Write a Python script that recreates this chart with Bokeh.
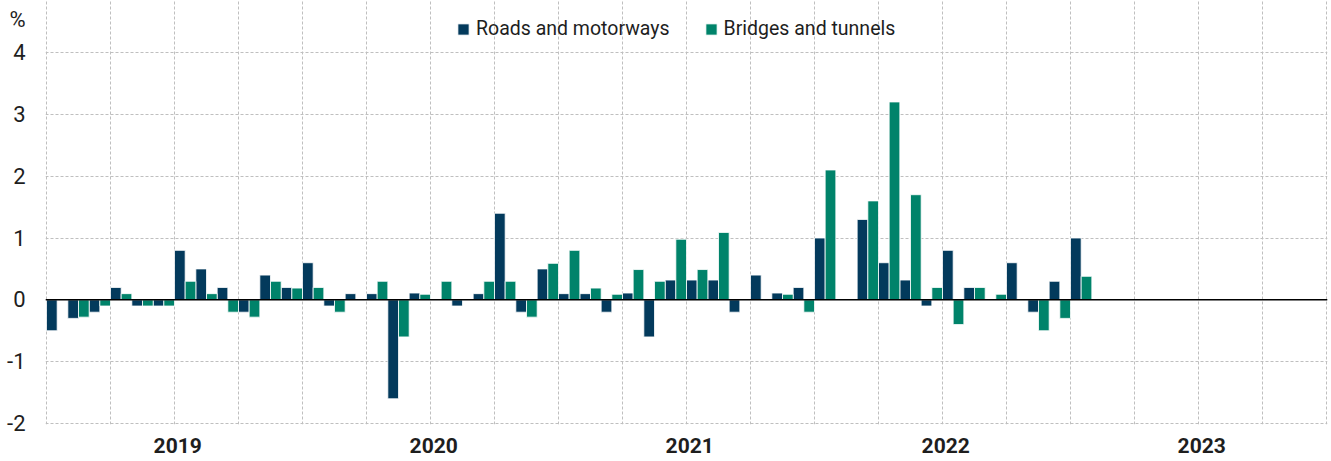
import numpy as np
from bokeh.plotting import figure
from bokeh.models import (ColumnDataSource, Range1d, FixedTicker, Span,
                          Legend, LegendItem)
from bokeh.transform import dodge
from bokeh.embed import file_html
from bokeh.resources import INLINE

# ---- data (monthly % change, Jan 2019 .. Jan 2023) ----
years = [2019, 2020, 2021, 2022, 2023]
year_labels = ["2019", "2020", "2021", "2022", "2023"]
series_names = ["Roads and motorways", "Bridges and tunnels"]
y_ticks = [-2, -1, 0, 1, 2, 3, 4]
y_tick_labels = ["-2", "-1", "0", "1", "2", "3", "4"]
unit_label = "%"

roads = [-0.5, -0.3, -0.2, 0.2, -0.1, -0.1, 0.8, 0.5, 0.2, -0.2, 0.4, 0.2,
         0.6, -0.1, 0.1, 0.1, -1.6, 0.11, 0.0, -0.1, 0.1, 1.4, -0.2, 0.5,
         0.1, 0.1, -0.2, 0.11, -0.6, 0.32, 0.32, 0.32, -0.2, 0.4, 0.11, 0.2,
         1.0, 0.0, 1.3, 0.6, 0.32, -0.1, 0.8, 0.2, 0.0, 0.6, -0.2, 0.3,
         1.0]
bridges = [0.0, -0.28, -0.1, 0.1, -0.1, -0.1, 0.3, 0.1, -0.2, -0.28, 0.3, 0.19,
           0.2, -0.2, 0.0, 0.3, -0.6, 0.09, 0.3, 0.0, 0.3, 0.3, -0.28, 0.59,
           0.8, 0.19, 0.09, 0.49, 0.3, 0.98, 0.49, 1.09, 0.0, 0.0, 0.09, -0.2,
           2.1, 0.0, 1.6, 3.2, 1.7, 0.2, -0.4, 0.2, 0.09, 0.0, -0.5, -0.3,
           0.38]

DARK = "#033a5c"
GREEN = "#00836a"
FONT = "Roboto"
TXT = "#1e1e1e"
GRID = "#bfbfbf"

n_months_total = 12 * len(years)

# layout in pixels: grid box 1280 x 371 px, starting 52 px below the top
PX_X = 1280 / n_months_total
PX_Y = 371 / (y_ticks[-1] - y_ticks[0])
TOP_PAD = 52
x_lo = -1 / PX_X
x_hi = n_months_total + 1 / PX_X
y_lo = y_ticks[0] - 1 / PX_Y
y_hi = y_ticks[-1] + TOP_PAD / PX_Y
unit_pos = y_ticks[-1] + (TOP_PAD - 18.5) / PX_Y

x_center = [i + 0.5 for i in range(len(roads))]
src = ColumnDataSource(dict(x=x_center, roads=roads, bridges=bridges))

p = figure(width=1328, height=459, output_backend="svg", toolbar_location=None,
           x_range=Range1d(x_lo, x_hi), y_range=Range1d(y_lo, y_hi),
           min_border_left=45, min_border_right=1, min_border_top=0, min_border_bottom=35)
p.background_fill_color = "white"
p.border_fill_color = "white"
p.outline_line_color = None

r1 = p.vbar(x=dodge("x", -0.25), top="roads", bottom=0, width=0.5, source=src,
            fill_color=DARK, line_color="white", line_width=0.8)
r2 = p.vbar(x=dodge("x", 0.25), top="bridges", bottom=0, width=0.5, source=src,
            fill_color=GREEN, line_color="white", line_width=0.8)

p.add_layout(Span(location=0, dimension="width", line_color="black", line_width=1.5))

# grids (limited to the -2..4 box)
p.xgrid.ticker = FixedTicker(ticks=list(range(0, n_months_total + 1, 3)))
p.xgrid.bounds = (y_ticks[0], y_ticks[-1])
p.xgrid.grid_line_color = GRID
p.xgrid.grid_line_dash = "3 2"
p.ygrid.ticker = FixedTicker(ticks=y_ticks)
p.ygrid.bounds = (0, n_months_total)
p.ygrid.grid_line_color = GRID
p.ygrid.grid_line_dash = "3 2"

# x axis: year labels centered under each year
xt = [12 * k + 6.15 for k in range(len(years))]
p.xaxis.ticker = FixedTicker(ticks=xt)
p.xaxis.major_label_overrides = {t: lab for t, lab in zip(xt, year_labels)}
p.xaxis.axis_line_color = None
p.xaxis.major_tick_line_color = None
p.xaxis.minor_tick_line_color = None
p.xaxis.major_tick_out = 0
p.xaxis.major_tick_in = 0
p.xaxis.major_label_text_font = FONT
p.xaxis.major_label_text_font_style = "bold"
p.xaxis.major_label_text_font_size = "21px"
p.xaxis.major_label_text_color = TXT
p.xaxis.major_label_standoff = 13

# y axis: numeric ticks plus the unit label "%" above the top tick
yt = y_ticks + [unit_pos]
p.yaxis.ticker = FixedTicker(ticks=yt)
p.yaxis.major_label_overrides = {t: lab for t, lab in zip(yt, y_tick_labels + [unit_label])}
p.yaxis.axis_line_color = None
p.yaxis.major_tick_line_color = None
p.yaxis.minor_tick_line_color = None
p.yaxis.major_tick_out = 0
p.yaxis.major_tick_in = 0
p.yaxis.major_label_text_font = FONT
p.yaxis.major_label_text_font_size = "22px"
p.yaxis.major_label_text_color = TXT
p.yaxis.major_label_standoff = 20

legend = Legend(items=[LegendItem(label=series_names[0], renderers=[r1]),
                       LegendItem(label=series_names[1], renderers=[r2])],
                orientation="horizontal", location=(411, 384),
                glyph_width=14, glyph_height=14, label_text_font=FONT,
                label_text_font_size="19.5px", label_text_color=TXT,
                label_standoff=6, spacing=34, padding=0, margin=0,
                border_line_color=None, background_fill_alpha=0)
p.add_layout(legend)

open("out.html", "w").write(file_html(p, INLINE))
